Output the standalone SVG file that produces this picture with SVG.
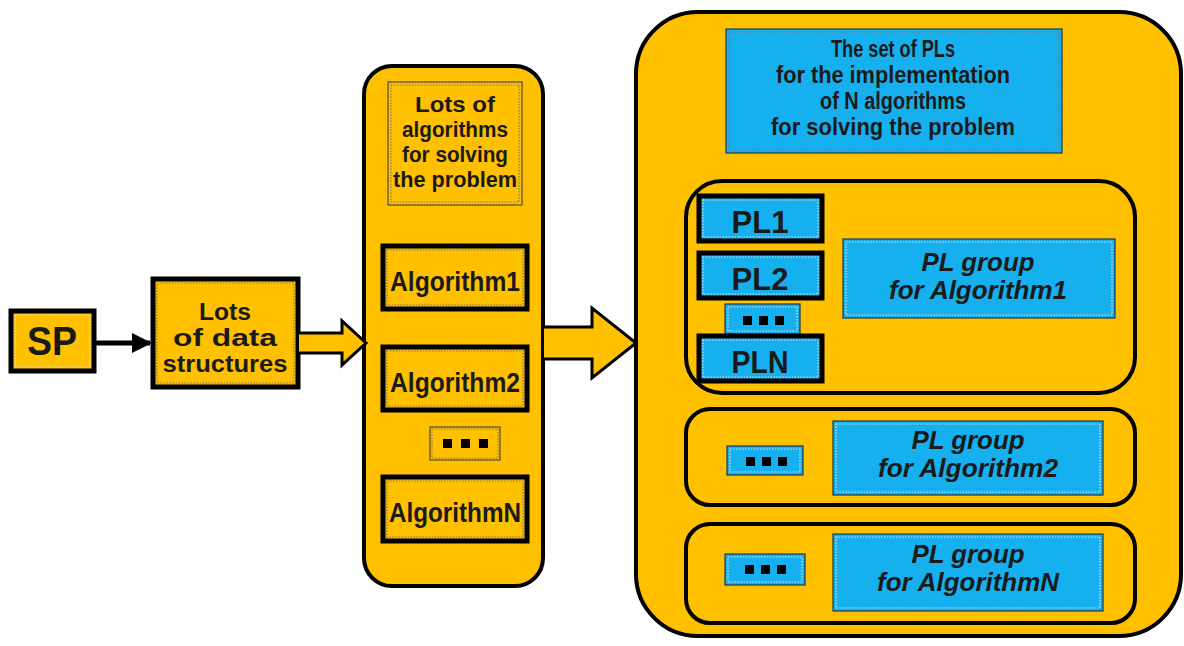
<svg xmlns="http://www.w3.org/2000/svg" width="1184" height="646" viewBox="0 0 1184 646">
<defs>
<style>
.bg{fill:#ffffff}
.cont{fill:#FFC000;stroke:#000;stroke-width:4}
.thick{fill:#FFC000;stroke:#000;stroke-width:5}
.thickb{fill:#16B0EE;stroke:#000;stroke-width:5}
.thin{fill:#FFC000;stroke:#333;stroke-width:1}
.thinb{fill:#16B0EE;stroke:#1a3a4a;stroke-width:1.2}
.dot{fill:none;stroke:#777;stroke-width:1.2;stroke-dasharray:1.5 1.5}
.dotw{fill:none;stroke:#ddd;stroke-width:1.2;stroke-dasharray:1.5 1.5}
.t{font-family:"Liberation Sans",Arial,sans-serif;font-weight:bold;fill:#1a1a1a;text-anchor:middle}
.ti{font-family:"Liberation Sans",Arial,sans-serif;font-weight:bold;font-style:italic;fill:#1a1a1a;text-anchor:middle}
.sq{fill:#000}
.blk{fill:#FFC000;stroke:#000;stroke-width:3;stroke-linejoin:miter}
</style>
<marker id="ah" viewBox="0 0 10 10" refX="9" refY="5" markerWidth="4" markerHeight="4" orient="auto" markerUnits="strokeWidth">
<path d="M0,0 L10,5 L0,10 z" fill="#000"/>
</marker>
</defs>
<rect class="bg" x="0" y="0" width="1184" height="646"/>

<g id="big-container">
<rect class="cont" x="636" y="12" width="545" height="624" rx="62" ry="62"/>
</g>
<g id="mid-container">
<rect class="cont" x="364" y="66" width="179" height="520" rx="28" ry="28"/>
</g>

<g id="sp">
<rect class="thick" x="11" y="311" width="83" height="60"/>
<rect class="dotw" x="15" y="315" width="75" height="52"/>
<text class="t" x="52" y="355" font-size="40" textLength="50" lengthAdjust="spacingAndGlyphs">SP</text>
</g>

<g id="data-structures">
<rect class="thick" x="153" y="279" width="145" height="108"/>
<rect class="dot" x="157" y="283" width="137" height="100"/>
<text class="t" x="225" y="320" font-size="23" textLength="52" lengthAdjust="spacingAndGlyphs">Lots</text>
<text class="t" x="225" y="346" font-size="23" textLength="104" lengthAdjust="spacingAndGlyphs">of data</text>
<text class="t" x="225" y="372" font-size="23" textLength="125" lengthAdjust="spacingAndGlyphs">structures</text>
</g>

<g id="lots-of-algorithms">
<rect class="thin" x="388" y="82" width="134" height="123"/>
<rect class="dot" x="391" y="85" width="128" height="117"/>
<text class="t" x="455" y="112" font-size="22" textLength="80" lengthAdjust="spacingAndGlyphs">Lots of</text>
<text class="t" x="455" y="137" font-size="22" textLength="106" lengthAdjust="spacingAndGlyphs">algorithms</text>
<text class="t" x="455" y="162" font-size="22" textLength="106" lengthAdjust="spacingAndGlyphs">for solving</text>
<text class="t" x="455" y="187" font-size="22" textLength="124" lengthAdjust="spacingAndGlyphs">the problem</text>
</g>

<g id="algorithm1">
<rect class="thick" x="383" y="246" width="144" height="63"/>
<rect class="dot" x="387" y="250" width="136" height="55"/>
<text class="t" x="455" y="291" font-size="28" textLength="130" lengthAdjust="spacingAndGlyphs">Algorithm1</text>
</g>
<g id="algorithm2">
<rect class="thick" x="383" y="347" width="144" height="63"/>
<rect class="dot" x="387" y="351" width="136" height="55"/>
<text class="t" x="455" y="392" font-size="28" textLength="130" lengthAdjust="spacingAndGlyphs">Algorithm2</text>
</g>
<g id="alg-dots">
<rect class="thin" x="430" y="427" width="70" height="33"/>
<rect class="dot" x="432" y="429" width="66" height="29"/>
<rect class="sq" x="443" y="439" width="9" height="9"/>
<rect class="sq" x="461" y="439" width="9" height="9"/>
<rect class="sq" x="479" y="439" width="9" height="9"/>
</g>
<g id="algorithmN">
<rect class="thick" x="383" y="477" width="144" height="64"/>
<rect class="dot" x="387" y="481" width="136" height="56"/>
<text class="t" x="455" y="522" font-size="28" textLength="132" lengthAdjust="spacingAndGlyphs">AlgorithmN</text>
</g>

<g id="set-of-pls">
<rect class="thinb" x="726" y="29" width="336" height="124"/>
<rect class="dot" x="729" y="32" width="330" height="118"/>
<text class="t" x="893" y="57" font-size="23" textLength="124" lengthAdjust="spacingAndGlyphs">The set of PLs</text>
<text class="t" x="893" y="83" font-size="23" textLength="234" lengthAdjust="spacingAndGlyphs">for the implementation</text>
<text class="t" x="893" y="109" font-size="23" textLength="146" lengthAdjust="spacingAndGlyphs">of N algorithms</text>
<text class="t" x="893" y="135" font-size="23" textLength="244" lengthAdjust="spacingAndGlyphs">for solving the problem</text>
</g>

<g id="group1">
<rect class="cont" x="686" y="181" width="449" height="212" rx="36" ry="36"/>
</g>
<g id="pl1">
<rect class="thickb" x="699" y="196" width="123" height="45"/>
<rect class="dotw" x="703" y="200" width="115" height="37"/>
<text class="t" x="760" y="233" font-size="31" textLength="57" lengthAdjust="spacingAndGlyphs">PL1</text>
</g>
<g id="pl2">
<rect class="thickb" x="699" y="253" width="123" height="45"/>
<rect class="dotw" x="703" y="257" width="115" height="37"/>
<text class="t" x="760" y="290" font-size="31" textLength="57" lengthAdjust="spacingAndGlyphs">PL2</text>
</g>
<g id="pl-dots">
<rect class="thinb" x="725" y="304" width="75" height="30" stroke="none"/>
<rect class="dotw" x="728" y="307" width="69" height="24"/>
<rect class="sq" x="743" y="316" width="9" height="9"/>
<rect class="sq" x="759" y="316" width="9" height="9"/>
<rect class="sq" x="775" y="316" width="9" height="9"/>
</g>
<g id="plN">
<rect class="thickb" x="699" y="336" width="123" height="45"/>
<rect class="dotw" x="703" y="340" width="115" height="37"/>
<text class="t" x="760" y="373" font-size="31" textLength="57" lengthAdjust="spacingAndGlyphs">PLN</text>
</g>
<g id="pl-group-1">
<rect class="thinb" x="843" y="239" width="272" height="79"/>
<rect class="dotw" x="846" y="242" width="266" height="73"/>
<text class="ti" x="978" y="271" font-size="25" textLength="113" lengthAdjust="spacingAndGlyphs">PL group</text>
<text class="ti" x="978" y="299" font-size="25" textLength="178" lengthAdjust="spacingAndGlyphs">for Algorithm1</text>
</g>

<g id="group2">
<rect class="cont" x="686" y="409" width="449" height="96" rx="24" ry="24"/>
</g>
<g id="g2-dots">
<rect class="thinb" x="727" y="446" width="76" height="29" stroke="none"/>
<rect class="dotw" x="730" y="449" width="70" height="23"/>
<rect class="sq" x="746" y="457" width="9" height="9"/>
<rect class="sq" x="762" y="457" width="9" height="9"/>
<rect class="sq" x="778" y="457" width="9" height="9"/>
</g>
<g id="pl-group-2">
<rect class="thinb" x="833" y="421" width="270" height="74"/>
<rect class="dotw" x="836" y="424" width="264" height="68"/>
<text class="ti" x="968" y="449" font-size="25" textLength="113" lengthAdjust="spacingAndGlyphs">PL group</text>
<text class="ti" x="968" y="477" font-size="25" textLength="180" lengthAdjust="spacingAndGlyphs">for Algorithm2</text>
</g>

<g id="group3">
<rect class="cont" x="686" y="524" width="449" height="99" rx="24" ry="24"/>
</g>
<g id="g3-dots">
<rect class="thinb" x="725" y="554" width="80" height="31" stroke="none"/>
<rect class="dotw" x="728" y="557" width="74" height="25"/>
<rect class="sq" x="745" y="565" width="9" height="9"/>
<rect class="sq" x="761" y="565" width="9" height="9"/>
<rect class="sq" x="777" y="565" width="9" height="9"/>
</g>
<g id="pl-group-N">
<rect class="thinb" x="833" y="534" width="270" height="77"/>
<rect class="dotw" x="836" y="537" width="264" height="71"/>
<text class="ti" x="968" y="563" font-size="25" textLength="113" lengthAdjust="spacingAndGlyphs">PL group</text>
<text class="ti" x="968" y="591" font-size="25" textLength="182" lengthAdjust="spacingAndGlyphs">for AlgorithmN</text>
</g>

<g id="connectors">
<line x1="95" y1="343" x2="150" y2="343" stroke="#000" stroke-width="5" marker-end="url(#ah)"/>
<path class="blk" d="M299,333 L342,333 L342,321 L366,343 L342,365 L342,353 L299,353"/>
<path class="blk" d="M544,327 L592,327 L592,308 L636,343 L592,378 L592,359 L544,359"/>
</g>
</svg>
